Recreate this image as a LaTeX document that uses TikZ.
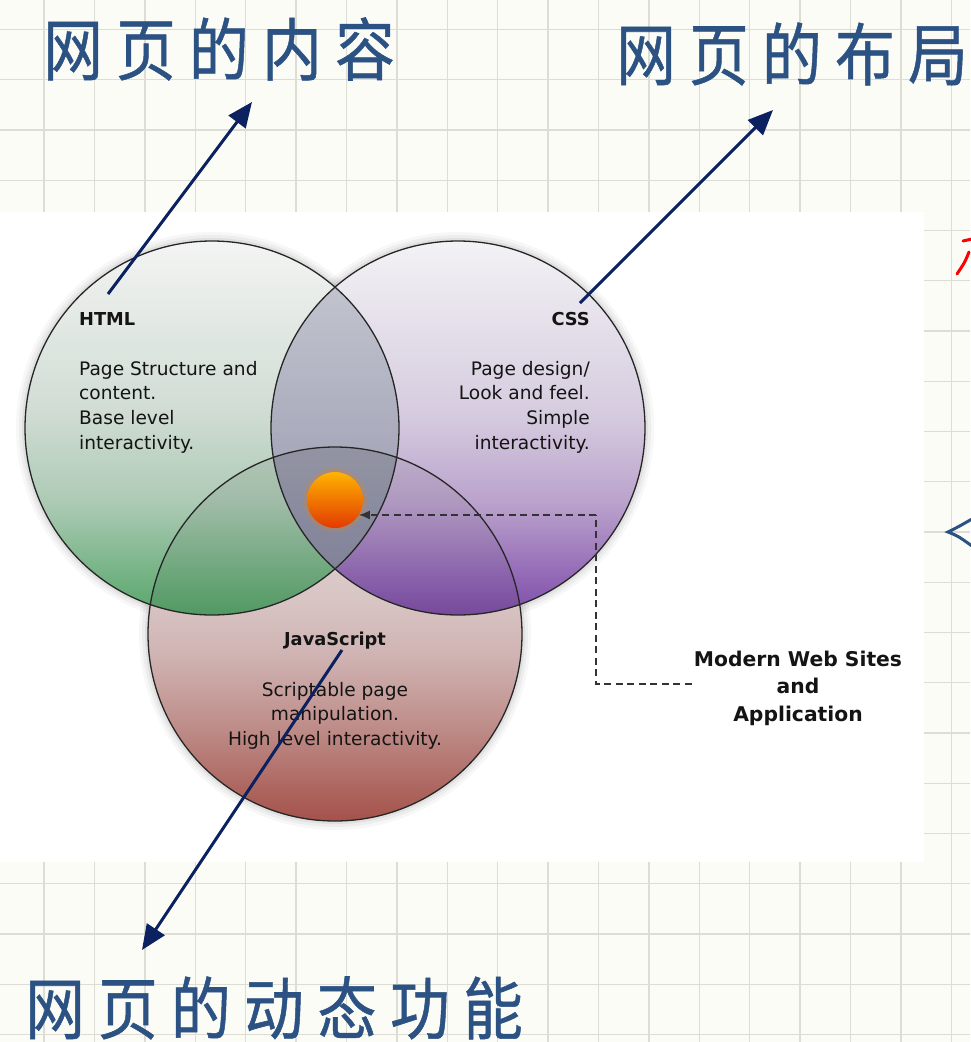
\documentclass[tikz,border=0pt]{standalone}
\usepackage{fontspec}
\setmainfont{DejaVu Sans}
\newfontfamily\cjk{Noto Sans CJK SC}[LetterSpace=22,FakeBold=0.8]
\newfontfamily\lucida{DejaVu Sans}
\usetikzlibrary{arrows.meta}
\definecolor{bgpaper}{HTML}{FCFCF7}
\definecolor{gridc}{HTML}{DDDDD6}
\definecolor{titleblue}{HTML}{2B5283}
\definecolor{navy}{HTML}{0B2160}
\definecolor{labelc}{HTML}{141414}
\definecolor{lenstop}{HTML}{C8CBD1}
\definecolor{lensbot}{HTML}{8E8FAB}
\definecolor{balltop}{HTML}{FFB300}
\definecolor{ballbot}{HTML}{E23A00}
\definecolor{outline}{HTML}{262626}
\definecolor{dashc}{HTML}{333333}
% vertical shadings: 25bp = bottom of the path, 75bp = top
\pgfdeclareverticalshading{htmlshade}{100bp}{%
  color(0bp)=(rgb,255:red,88;green,165;blue,106);
  color(25bp)=(rgb,255:red,88;green,165;blue,106);
  color(30bp)=(rgb,255:red,114;green,178;blue,130);
  color(40bp)=(rgb,255:red,172;green,202;blue,180);
  color(52bp)=(rgb,255:red,208;green,220;blue,211);
  color(75bp)=(rgb,255:red,243;green,244;blue,243);
  color(100bp)=(rgb,255:red,243;green,244;blue,243)}
\pgfdeclareverticalshading{cssshade}{100bp}{%
  color(0bp)=(rgb,255:red,126;green,78;blue,166);
  color(25bp)=(rgb,255:red,126;green,78;blue,166);
  color(30bp)=(rgb,255:red,146;green,104;blue,182);
  color(40bp)=(rgb,255:red,186;green,162;blue,204);
  color(52bp)=(rgb,255:red,214;green,204;blue,223);
  color(75bp)=(rgb,255:red,243;green,242;blue,245);
  color(100bp)=(rgb,255:red,243;green,242;blue,245)}
\pgfdeclareverticalshading{jsshade}{100bp}{%
  color(0bp)=(rgb,255:red,164;green,82;blue,74);
  color(25bp)=(rgb,255:red,164;green,82;blue,74);
  color(37bp)=(rgb,255:red,189;green,138;blue,134);
  color(47bp)=(rgb,255:red,207;green,179;blue,178);
  color(55bp)=(rgb,255:red,216;green,198;blue,197);
  color(75bp)=(rgb,255:red,224;green,214;blue,214);
  color(100bp)=(rgb,255:red,224;green,214;blue,214)}
\begin{document}
\begin{tikzpicture}[x=1pt,y=-1pt,
  gridline/.style={gridc, line width=1.4pt},
  title/.style={font=\cjk\fontsize{68}{74}\selectfont, text=titleblue, inner sep=0pt},
  bigarrow/.style={navy, line width=3pt, -{Triangle[length=25pt,width=21pt]}},
  ring/.style={outline, line width=1.3pt},
  vhead/.style={font=\lucida\bfseries\fontsize{17.8}{24.6}\selectfont, text=labelc, inner sep=0pt},
  vbody/.style={font=\lucida\fontsize{18.6}{24.6}\selectfont, text=labelc, inner sep=0pt},
  dashline/.style={dashc, line width=1.3pt, dash pattern=on 7pt off 4.5pt},
  dashtip/.style={-{Latex[length=11pt,width=9pt]}},
]
\useasboundingbox (0,0) rectangle (970,1042);
\fill[bgpaper] (0,0) rectangle (970,1042);
% grid
\foreach \i in {0,...,18} \draw[gridline] ({44+50.4*\i},0) -- ({44+50.4*\i},1042);
\foreach \j in {0,...,20} \draw[gridline] (0,{29.5+50.25*\j}) -- (970,{29.5+50.25*\j});
% pasted white panel
\fill[white] (0,212) rectangle (924,862);

% circle centres
\coordinate (html) at (212,428);
\coordinate (css) at (458,428);
\coordinate (js) at (335,634);

% soft shadows
\foreach \r/\o in {196/0.03,193/0.04,190/0.05} {
  \fill[black, opacity=\o] (html) circle (\r pt);
  \fill[black, opacity=\o] (css) circle (\r pt);
  \fill[black, opacity=\o] (js) circle (\r pt);
}

% circle fills
\shade[shading=jsshade] (js) circle (187pt);
\shade[shading=htmlshade] (html) circle (187pt);
\shade[shading=cssshade] (css) circle (187pt);
% overlaps
\begin{scope}
  \clip (html) circle (187pt);
  \shade[top color=lenstop, bottom color=lensbot] (css) circle (187pt);
\end{scope}
\begin{scope}
  \clip (js) circle (187pt);
  \fill[black, opacity=0.07] (html) circle (187pt);
  \fill[black, opacity=0.06] (css) circle (187pt);
\end{scope}
% outlines
\draw[ring] (html) circle (187pt);
\draw[ring] (css) circle (187pt);
\draw[ring] (js) circle (187pt);

% orange ball
\fill[orange, opacity=0.18] (335,500) circle (32pt);
\node[circle, minimum size=56pt, inner sep=0pt, shade, top color=balltop, bottom color=ballbot] (ball) at (335,500) {};

% venn labels
\node[vhead, anchor=west] (htmlhead) at (79,319) {HTML};
\node[vbody, anchor=north west, align=left] (htmlbody) at (79,361)
  {Page Structure and\\content.\\Base level\\interactivity.};
\node[vhead, anchor=east] (csshead) at (590,319) {CSS};
\node[vbody, anchor=north east, align=right] (cssbody) at (590,361)
  {Page design/\\Look and feel.\\Simple\\interactivity.};
\node[vhead] (jshead) at (335,641) {JavaScript};
\node[vbody, anchor=north, align=center] (jsbody) at (335,682)
  {Scriptable page\\manipulation.\\High level interactivity.};

% modern web sites
\node[font=\lucida\bfseries\fontsize{20.3}{27.5}\selectfont, text=labelc, align=center, inner sep=2pt] (mws) at (798,688)
  {Modern Web Sites\\and\\Application};
\coordinate (bend1) at (596,684);
\coordinate (bend2) at (bend1 |- ball.-32);
\draw[dashline] (mws.west |- bend1) -- (bend1) -- (bend2);
\draw[dashline, dashtip] (bend2) -- (ball.-32);

% titles
\node[title] (t1) at (219,49) {\scalebox{0.88}[1]{网页的内容}};
\node[title] (t2) at (792,54) {\scalebox{0.88}[1]{网页的布局}};
\node[title] (t3) at (274,1008) {\scalebox{0.88}[1]{网页的动态功能}};

% big arrows
\coordinate (a1s) at (108,294);
\coordinate (a1e) at (252,102);
\coordinate (a2s) at (580,303);
\coordinate (a2e) at (773,110);
\coordinate (a3s) at (342,650);
\coordinate (a3e) at (142,950);
\draw[bigarrow] (a1s) -- (a1e);
\draw[bigarrow] (a2s) -- (a2e);
\draw[bigarrow] (a3s) -- (a3e);

% cut-off glyph fragments at the right edge
\draw[red, line width=3pt, line cap=round] (963,241) -- (972,239);
\draw[red, line width=3pt, line cap=round] (969,252) .. controls (965,262) .. (957,274);
\draw[titleblue, line width=3pt, line cap=round] (972,519) .. controls (958,527) .. (948,532) .. controls (958,536) .. (972,546);
\end{tikzpicture}
\end{document}
